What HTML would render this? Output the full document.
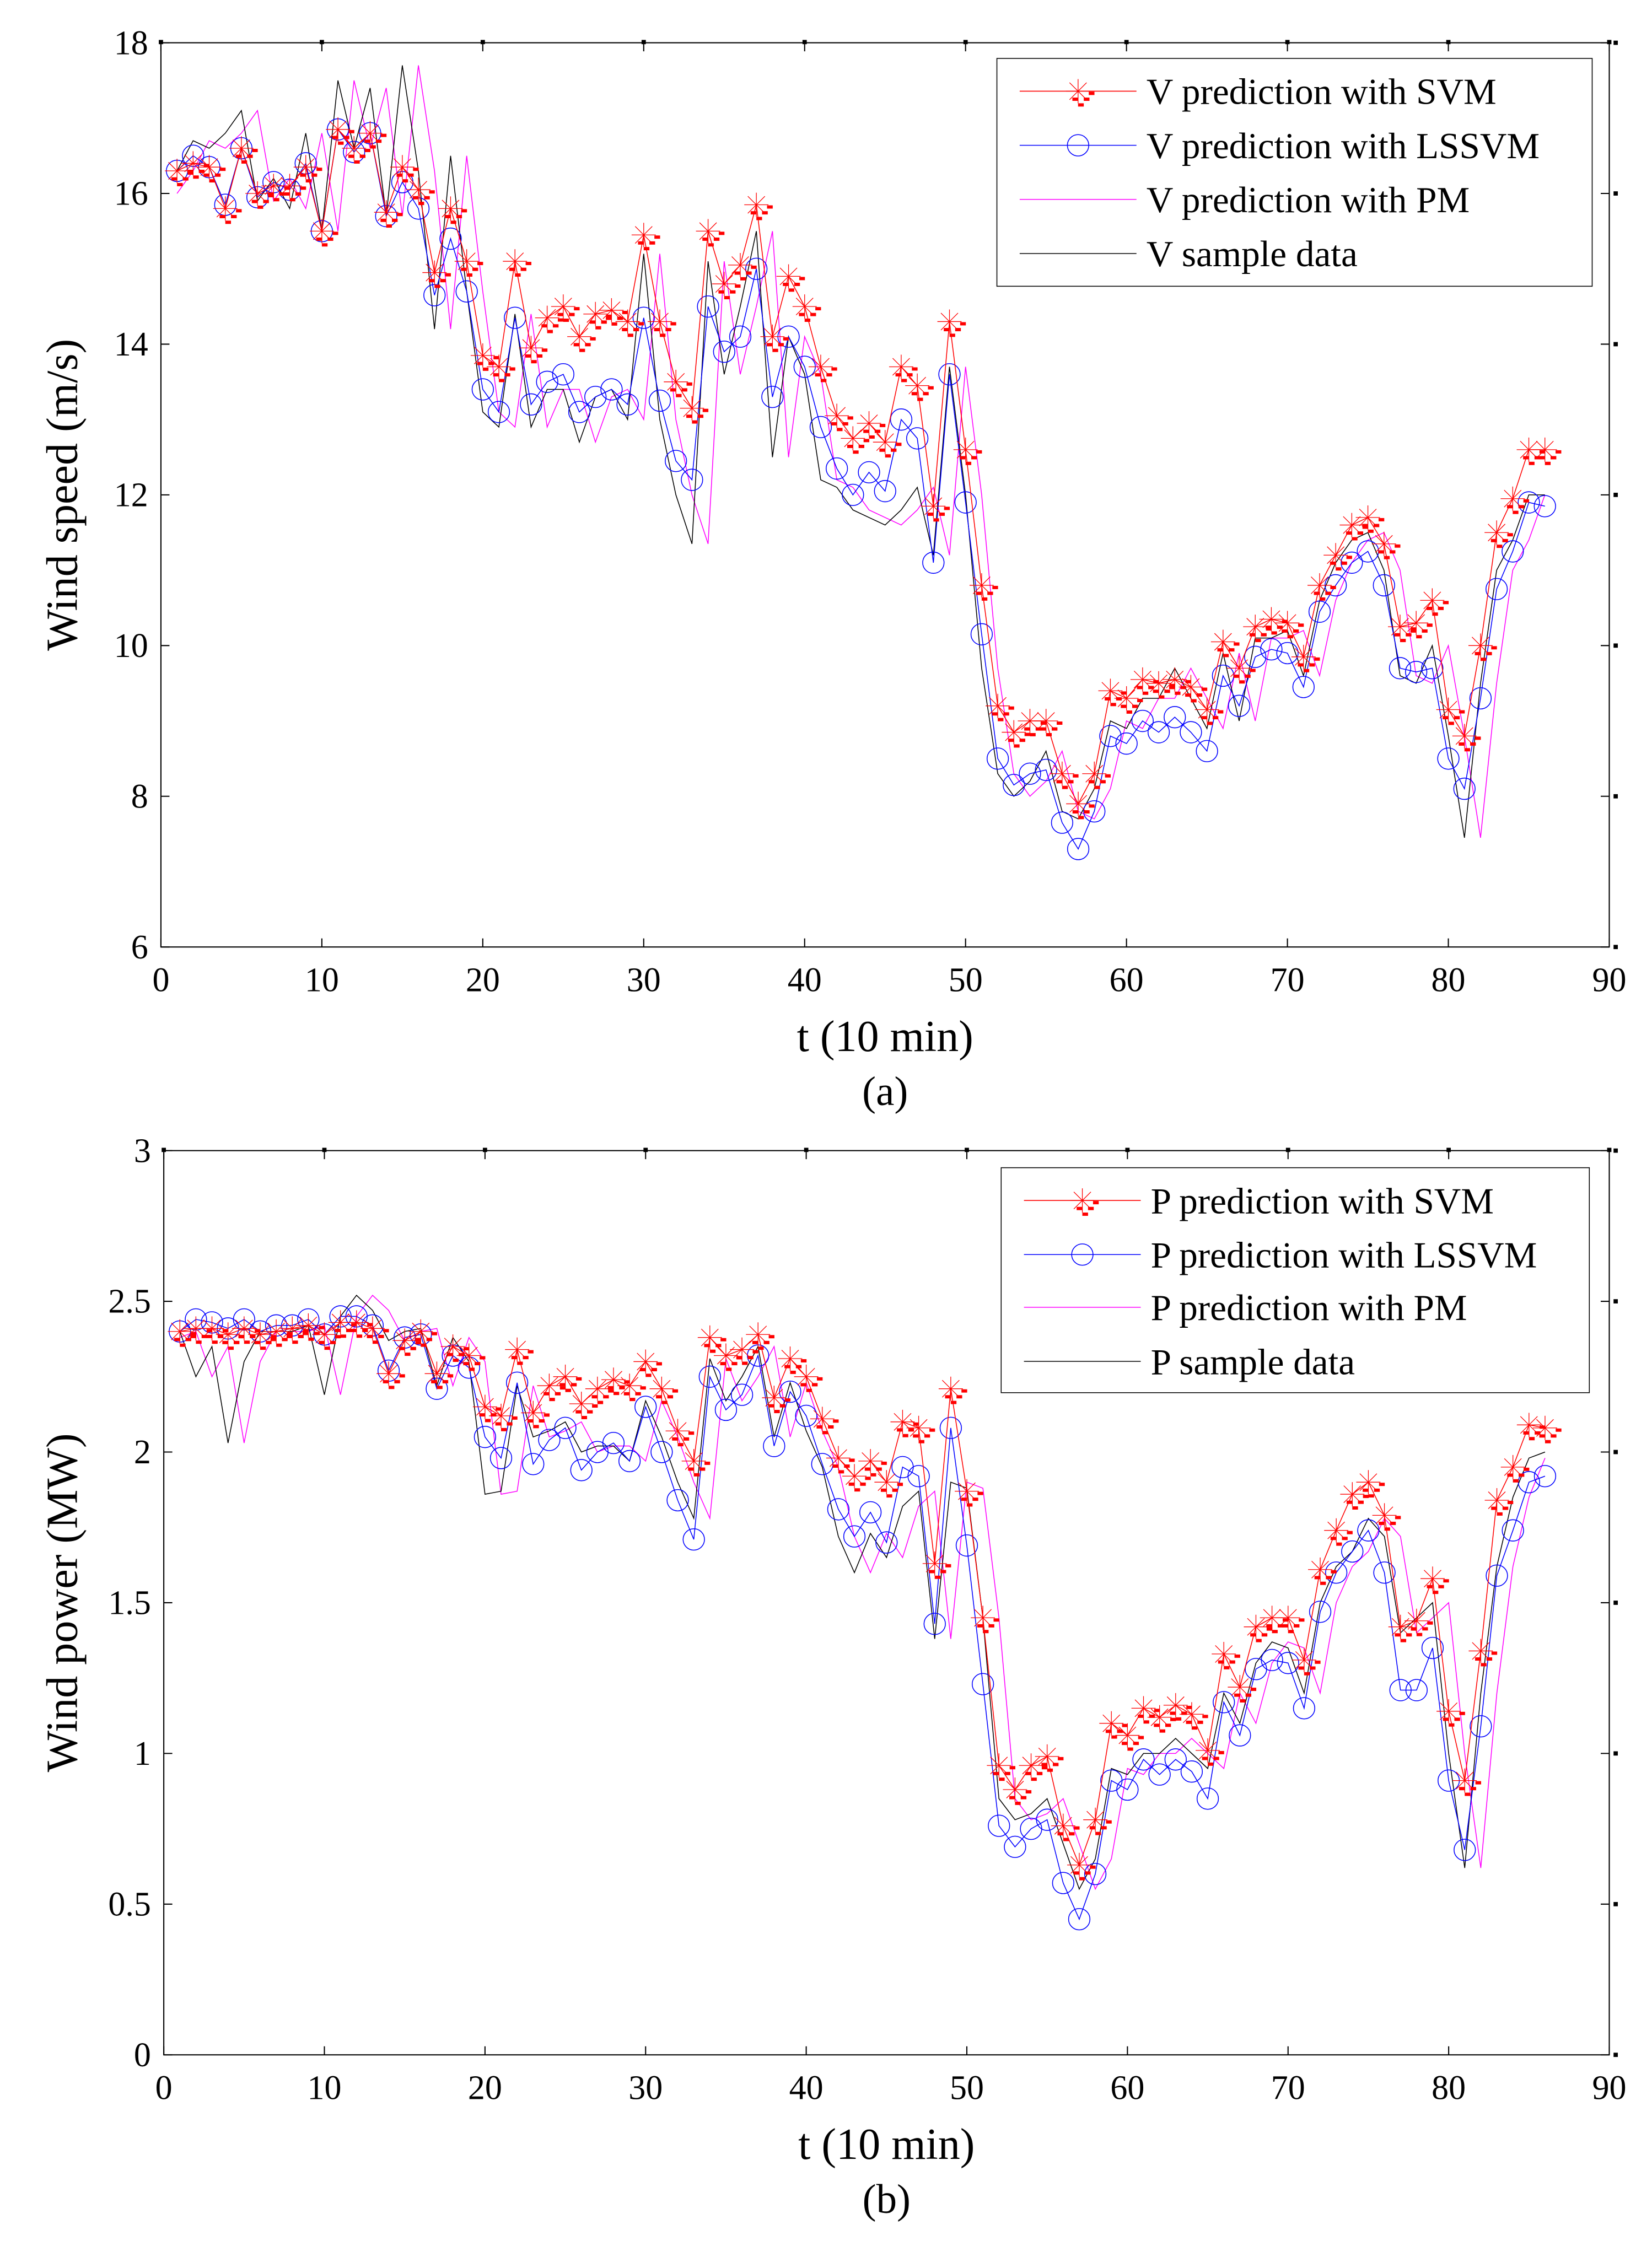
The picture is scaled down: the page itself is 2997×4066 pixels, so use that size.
<!DOCTYPE html>
<html><head><meta charset="utf-8"><style>
html,body{margin:0;padding:0;background:#fff}
svg{display:block}
text{font-family:"Liberation Serif",serif;fill:#000}
</style></head><body>
<svg id="fig" width="2997" height="4066" viewBox="0 0 1160 1573.7" xmlns="http://www.w3.org/2000/svg">
<rect width="1160" height="1573.7" fill="#fff"/>
<g id="chartA"></g>
<g id="chartB"></g>
</svg>
<script>
const NS="http://www.w3.org/2000/svg";
const xTicks=[0,10,20,30,40,50,60,70,80,90];
const vTicks=[6,8,10,12,14,16,18];
const pTicks=[0,0.5,1,1.5,2,2.5,3];
const vLssvm=[16.3,16.5,16.35,15.85,16.6,15.95,16.15,16.05,16.4,15.5,16.85,16.55,16.8,15.7,16.15,15.8,14.65,15.4,14.7,13.4,13.1,14.35,13.2,13.5,13.6,13.1,13.3,13.4,13.2,14.35,13.25,12.45,12.2,14.5,13.9,14.1,15.0,13.3,14.1,13.7,12.9,12.35,12.0,12.3,12.05,13.0,12.75,11.1,13.6,11.9,10.15,8.5,8.15,8.3,8.35,7.65,7.3,7.8,8.8,8.7,9.0,8.85,9.05,8.85,8.6,9.6,9.2,9.85,9.95,9.9,9.45,10.45,10.8,11.1,11.25,10.8,9.7,9.65,9.7,8.5,8.1,9.3,10.75,11.25,11.9,11.85];
const vSvm=[16.3,16.4,16.35,15.8,16.6,16.0,16.1,16.1,16.35,15.5,16.85,16.6,16.8,15.75,16.35,16.05,14.95,15.8,15.1,13.85,13.7,15.1,13.95,14.35,14.5,14.1,14.4,14.45,14.3,15.45,14.3,13.5,13.15,15.5,14.8,15.05,15.85,14.1,14.9,14.5,13.7,13.05,12.75,12.95,12.7,13.7,13.45,11.85,14.3,12.6,10.8,9.2,8.85,9.0,9.0,8.3,7.9,8.3,9.4,9.3,9.55,9.5,9.55,9.45,9.15,10.05,9.7,10.25,10.35,10.3,9.85,10.8,11.2,11.6,11.7,11.35,10.25,10.3,10.6,9.15,8.8,10.0,11.5,11.95,12.6,12.6];
const vSample=[16.3,16.7,16.6,16.8,17.1,15.9,16.2,15.8,16.8,15.5,17.5,16.6,17.4,15.7,17.7,16.3,14.2,16.5,14.7,13.1,12.9,14.4,12.9,13.4,13.4,12.7,13.3,13.4,13.0,15.2,13.0,12.0,11.35,15.1,13.6,14.5,15.5,12.5,14.1,13.6,12.2,12.1,11.8,11.7,11.6,11.8,12.1,11.2,13.7,12.0,9.7,8.3,8.0,8.2,8.6,7.8,7.7,8.1,9.0,8.9,9.3,9.3,9.7,9.3,8.9,9.9,9.0,10.1,10.1,10.2,9.6,10.6,11.1,11.4,11.5,11.0,9.6,9.5,10.0,8.8,7.45,9.5,11.0,11.4,12.0,12.0];
const vPm=[16.0,16.3,16.7,16.6,16.8,17.1,15.9,16.2,15.8,16.8,15.5,17.5,16.6,17.4,15.7,17.7,16.3,14.2,16.5,14.7,13.1,12.9,14.4,12.9,13.4,13.4,12.7,13.3,13.4,13.0,15.2,13.0,12.0,11.35,15.1,13.6,14.5,15.5,12.5,14.1,13.6,12.2,12.1,11.8,11.7,11.6,11.8,12.1,11.2,13.7,12.0,9.7,8.3,8.0,8.2,8.6,7.8,7.7,8.1,9.0,8.9,9.3,9.3,9.7,9.3,8.9,9.9,9.0,10.1,10.1,10.2,9.6,10.6,11.1,11.4,11.5,11.0,9.6,9.5,10.0,8.8,7.45,9.5,11.0,11.4,12.0];
const pLssvm=[2.4,2.44,2.43,2.41,2.44,2.4,2.42,2.42,2.44,2.39,2.45,2.45,2.42,2.27,2.38,2.39,2.21,2.32,2.28,2.05,1.98,2.23,1.96,2.04,2.08,1.94,2.0,2.03,1.97,2.15,2.0,1.84,1.71,2.25,2.14,2.19,2.32,2.02,2.2,2.12,1.96,1.81,1.72,1.8,1.7,1.95,1.92,1.43,2.08,1.69,1.23,0.76,0.69,0.75,0.78,0.57,0.45,0.6,0.91,0.88,0.98,0.93,0.98,0.94,0.85,1.17,1.06,1.28,1.31,1.3,1.15,1.47,1.6,1.67,1.74,1.6,1.21,1.21,1.35,0.91,0.68,1.09,1.59,1.74,1.9,1.92];
const pSvm=[2.4,2.41,2.41,2.39,2.41,2.39,2.4,2.41,2.42,2.39,2.43,2.43,2.41,2.26,2.37,2.4,2.26,2.35,2.32,2.15,2.12,2.34,2.13,2.22,2.25,2.16,2.21,2.24,2.22,2.3,2.21,2.07,1.97,2.38,2.32,2.34,2.39,2.18,2.31,2.25,2.11,1.98,1.92,1.97,1.9,2.1,2.08,1.63,2.21,1.87,1.45,0.96,0.88,0.96,0.99,0.76,0.63,0.78,1.1,1.06,1.15,1.12,1.16,1.13,1.01,1.33,1.22,1.42,1.45,1.45,1.31,1.61,1.74,1.86,1.9,1.79,1.42,1.44,1.58,1.14,0.91,1.34,1.84,1.95,2.09,2.08];
const pSample=[2.4,2.25,2.35,2.03,2.3,2.4,2.4,2.4,2.42,2.19,2.45,2.52,2.47,2.37,2.4,2.41,2.22,2.38,2.3,1.86,1.87,2.22,2.05,2.07,2.1,2.0,2.02,2.02,1.97,2.17,2.05,1.9,1.78,2.31,2.17,2.25,2.35,2.05,2.23,2.07,1.95,1.72,1.6,1.73,1.65,1.82,1.87,1.38,1.9,1.88,1.45,0.85,0.78,0.8,0.85,0.7,0.55,0.65,0.95,0.93,1.0,1.0,1.05,1.0,0.95,1.2,1.1,1.3,1.37,1.35,1.2,1.5,1.62,1.67,1.78,1.72,1.4,1.45,1.5,1.0,0.62,1.2,1.62,1.85,1.98,2.0];
const pPm=[2.38,2.4,2.25,2.35,2.03,2.3,2.4,2.4,2.4,2.42,2.19,2.45,2.52,2.47,2.37,2.4,2.41,2.22,2.38,2.3,1.86,1.87,2.22,2.05,2.07,2.1,2.0,2.02,2.02,1.97,2.17,2.05,1.9,1.78,2.31,2.17,2.25,2.35,2.05,2.23,2.07,1.95,1.72,1.6,1.73,1.65,1.82,1.87,1.38,1.9,1.88,1.45,0.85,0.78,0.8,0.85,0.7,0.55,0.65,0.95,0.93,1.0,1.0,1.05,1.0,0.95,1.2,1.1,1.3,1.37,1.35,1.2,1.5,1.62,1.67,1.78,1.72,1.4,1.45,1.5,1.0,0.62,1.2,1.62,1.85,1.98];

function mk(parent,tag,attrs){const e=document.createElementNS(NS,tag);for(const k in attrs)e.setAttribute(k,attrs[k]);parent.appendChild(e);return e;}
function svmMarker(g,x,y){
  const m=mk(g,'g',{});
  
  
  const r=8.5,d=6;
  mk(m,'path',{d:`M${x-r},${y}H${x+r}M${x},${y-r}V${y+r}M${x-d},${y-d}L${x+d},${y+d}M${x-d},${y+d}L${x+d},${y-d}`,stroke:'#f00','stroke-width':0.5,fill:'none'});
  [[7.5,0.4],[-4,4.5],[4,4.5],[0,8.5]].forEach(o=>mk(m,'rect',{x:x+o[0],y:y+o[1],width:4,height:2.3,fill:'#f00'}));
}
function drawChart(g,cfg){
  const X0=cfg.x0,X1=cfg.x1,Y0=cfg.ytop,Y1=cfg.ybot;
  const sx=v=>X0+(v-0)/(90-0)*(X1-X0);
  const sy=v=>Y1-(v-cfg.ymin)/(cfg.ymax-cfg.ymin)*(Y1-Y0);
  const box=mk(g,'rect',{x:X0,y:Y0,width:X1-X0,height:Y1-Y0,fill:'none',stroke:'#000','stroke-width':0.8});
  
  
  xTicks.forEach(t=>{
    const x=sx(t);
    mk(g,'path',{d:`M${x},${Y1}v-6M${x},${Y0}v6`,stroke:'#000','stroke-width':0.8});
    mk(g,'rect',{x:x-1.5,y:Y0-2,width:3,height:3,fill:'#000'});
    const tx=mk(g,'text',{x:x,y:Y1+31,'font-size':24,'text-anchor':'middle'});
    tx.textContent=t;
    
    
  });
  cfg.ticks.forEach(t=>{
    const y=sy(t);
    mk(g,'path',{d:`M${X0},${y}h6M${X1},${y}h-6`,stroke:'#000','stroke-width':0.8});
    mk(g,'rect',{x:X1+3,y:y-1.5,width:3,height:3,fill:'#000'});
    const tx=mk(g,'text',{x:X0-9,y:y+8,'font-size':24,'text-anchor':'end'});
    tx.textContent=t;
    
    
  });
  const idx=cfg.svm.map((_,i)=>i+1);
  const line=(arr,col,name)=>{
    const p=mk(g,'polyline',{points:arr.map((v,i)=>sx(idx[i])+','+sy(v)).join(' '),fill:'none',stroke:col,'stroke-width':0.6});
    
    
  };
  line(cfg.pm,'#f0f','pm-line');
  line(cfg.sample,'#000','sample-line');
  line(cfg.lssvm,'#00f','lssvm-line');
  cfg.lssvm.forEach((v,i)=>{
    const c=mk(g,'circle',{cx:sx(idx[i]),cy:sy(v),r:7.5,fill:'none',stroke:'#00f','stroke-width':0.6});
    
    
  });
  line(cfg.svm,'#f00','svm-line');
  cfg.svm.forEach((v,i)=>svmMarker(g,sx(idx[i]),sy(v)));
  // legend
  const L=cfg.leg;
  const lg=mk(g,'g',{});
  
  
  mk(lg,'rect',{x:L.x,y:L.y,width:L.w,height:L.h,fill:'#fff',stroke:'#000','stroke-width':0.6});
  const cols=['#f00','#00f','#f0f','#000'];
  L.labels.forEach((lab,i)=>{
    const y=L.rows[i];
    const e=mk(lg,'g',{});
    
    
    mk(e,'line',{x1:L.x+16,x2:L.x+98,y1:y,y2:y,stroke:cols[i],'stroke-width':0.6});
    if(i===0)svmMarker(e,L.x+57,y);
    if(i===1)mk(e,'circle',{cx:L.x+57,cy:y,r:7.5,fill:'none',stroke:'#00f','stroke-width':0.6});
    const t=mk(e,'text',{x:L.x+105,y:y+9,'font-size':26});
    t.textContent=lab;
  });
  const yl=mk(g,'text',{x:0,y:0,'font-size':31,'text-anchor':'middle',transform:`translate(54,${(Y0+Y1)/2}) rotate(-90)`});
  yl.textContent=cfg.ylabel;
  
  
  const xl=mk(g,'text',{x:(X0+X1)/2,y:Y1+73,'font-size':31,'text-anchor':'middle'});
  xl.textContent='t (10 min)';
  
  
  const cap=mk(g,'text',{x:(X0+X1)/2,y:Y1+111,'font-size':29,'text-anchor':'middle'});
  cap.textContent=cfg.caption;
  
  
}
drawChart(document.getElementById('chartA'),{x0:113,x1:1130,ytop:30,ybot:665,ymin:6,ymax:18,ticks:vTicks,
  svm:vSvm,lssvm:vLssvm,pm:vPm,sample:vSample,ylabel:'Wind speed (m/s)',caption:'(a)',
  leg:{x:700,y:41,w:418,h:160,rows:[64,102,140,178],labels:['V prediction with SVM','V prediction with LSSVM','V prediction with PM','V sample data']}});
drawChart(document.getElementById('chartB'),{x0:115,x1:1130,ytop:808,ybot:1443,ymin:0,ymax:3,ticks:pTicks,
  svm:pSvm,lssvm:pLssvm,pm:pPm,sample:pSample,ylabel:'Wind power (MW)',caption:'(b)',
  leg:{x:703,y:820,w:413,h:158,rows:[843,881,918,956],labels:['P prediction with SVM','P prediction with LSSVM','P prediction with PM','P sample data']}});
</script>
</body></html>
